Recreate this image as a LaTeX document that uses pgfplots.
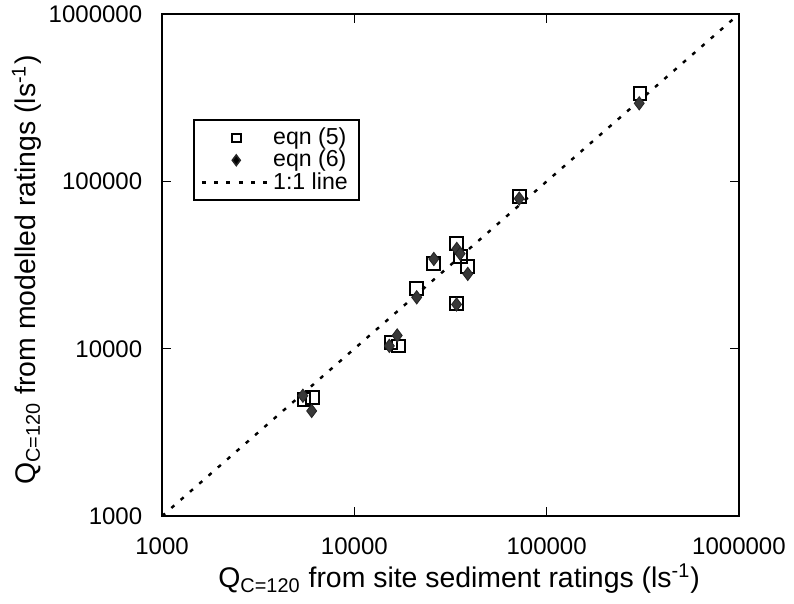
\documentclass[border=0pt]{standalone}
\usepackage{fontspec}
\setmainfont{Liberation Sans}
\usepackage{pgfplots}
\pgfplotsset{compat=1.18}
\pgfplotsset{
  legsq/.style={legend image code/.code={\draw[##1, mark size=2pt] plot coordinates {(0.55cm,0cm)};}},
  legdia/.style={legend image code/.code={\draw[##1, mark size=2.4pt, mark options={fill=black}] plot coordinates {(0.55cm,0cm)};}},
  legline/.style={legend image code/.code={\draw[##1] (0cm,0cm) -- (1.05cm,0cm);}},
}

\begin{document}
\begin{tikzpicture}
\begin{axis}[name=ax,
  scale only axis, width=262pt, height=228pt,
  xmode=log, ymode=log,
  xmin=1000, xmax=1000000, ymin=1000, ymax=1000000,
  log ticks with fixed point,
  /pgf/number format/1000 sep={},
  /pgf/number format/assume math mode=true,
  xtick={1000,10000,100000,1000000},
  ytick={1000,10000,100000,1000000},
  minor tick style={draw=none},
  tick align=inside, major tick length=4pt,
  axis line style={line width=1.2pt},
  tick style={black, line width=0.6pt},
  ticklabel style={font=\fontsize{10.9}{12}\selectfont},
  xticklabel style={yshift=-6.5pt},
  yticklabel style={xshift=-5.5pt},
  label style={font=\fontsize{12.9}{14}\selectfont},
  xlabel={Q\textsubscript{C=120} from site sediment ratings (ls\textsuperscript{-1})},
  ylabel={Q\textsubscript{C=120} from modelled ratings (ls\textsuperscript{-1})},
  xlabel style={at={(axis description cs:0.515,-0.125)}, anchor=center},
  ylabel style={at={(axis description cs:-0.235,0.49)}, anchor=center},
  legend cell align=left,
  legend style={at={(0.054,0.79)}, anchor=north west, draw=black, line width=0.7pt,
    font=\fontsize{10.5}{12}\selectfont, row sep=-3pt, inner xsep=3pt, inner ysep=1.5pt},
]
% eqn (5)
\addplot[only marks, mark=square, mark size=2.9pt, black, mark options={line width=0.9pt}, legsq] coordinates {
 (306000,336000) (72000,81000) (34100,42400) (35500,35600) (38900,31000)
 (25900,32400) (21100,22800) (34000,18600) (15500,10900) (16900,10400)
 (5470,5000) (6050,5100)};
\addlegendentry{eqn (5)}
% eqn (6)
\addplot[only marks, mark=diamond*, mark size=3pt, black!85, mark options={fill=black!78}, legdia] coordinates {
 (303000,293000) (72000,79000) (34100,39500) (35500,37000) (38900,28000)
 (25900,34400) (21100,20300) (34000,18400) (15200,10400) (16700,12000)
 (5400,5240) (6000,4250)};
\addlegendentry{eqn (6)}
% 1:1 line
\addplot[black, line width=1.1pt, dash pattern=on 1.8pt off 3.8pt, legline] coordinates {(1000,1000) (1000000,1000000)};
\addlegendentry{1:1 line}
\end{axis}
\pgfresetboundingbox
\useasboundingbox ([xshift=-73.6pt,yshift=-39.5pt]ax.south west) rectangle ([xshift=25pt,yshift=6.4pt]ax.north east);
\end{tikzpicture}
\end{document}
